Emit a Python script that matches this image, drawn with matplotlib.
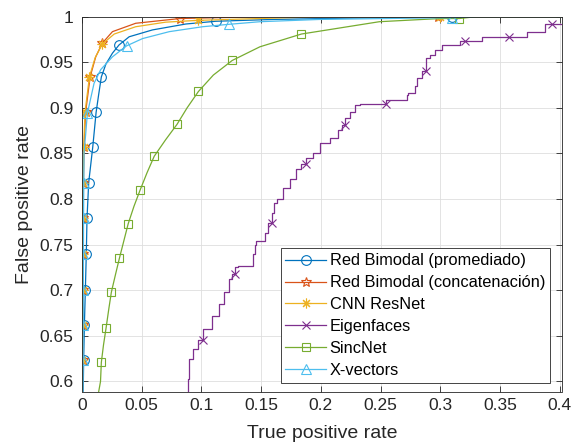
import matplotlib
matplotlib.use("Agg")
import matplotlib.pyplot as plt
from matplotlib.ticker import FuncFormatter

plt.rcParams['font.family'] = ['Liberation Sans', 'DejaVu Sans']

# ---------------- data ----------------
labels = ["Red Bimodal (promediado)", "Red Bimodal (concatenación)", "CNN ResNet",
          "Eigenfaces", "SincNet", "X-vectors"]

prom_x = [0.0010, 0.0014, 0.0020, 0.0028, 0.0036, 0.0042, 0.0056, 0.0090, 0.0118, 0.0140,
          0.0162, 0.0200, 0.0255, 0.0310, 0.0395, 0.0590, 0.0870, 0.1120, 0.1600, 0.2500,
          0.3100, 0.4020]
prom_y = [0.589, 0.624, 0.662, 0.700, 0.740, 0.779, 0.818, 0.857, 0.895, 0.915,
          0.934, 0.948, 0.960, 0.969, 0.978, 0.9855, 0.992, 0.995, 0.997, 0.999,
          1.000, 1.000]
prom_m = [1, 2, 3, 4, 5, 6, 7, 8, 10, 13, 17, 20]

conc_x = [0.0005, 0.0006, 0.0007, 0.0008, 0.0009, 0.0010, 0.0012, 0.0017, 0.0030, 0.0068,
          0.0115, 0.0170, 0.0255, 0.0450, 0.0820, 0.1500, 0.2980, 0.4020]
conc_y = [0.589, 0.624, 0.662, 0.700, 0.740, 0.779, 0.818, 0.857, 0.895, 0.934,
          0.956, 0.971, 0.9836, 0.9928, 0.998, 1.000, 1.000, 1.000]
conc_m = [1, 2, 3, 4, 5, 6, 7, 8, 9, 11, 14, 16]

cnn_x = [0.0003, 0.0004, 0.0005, 0.0006, 0.0007, 0.0008, 0.0010, 0.0014, 0.0025, 0.0062,
         0.0110, 0.0170, 0.0270, 0.0450, 0.0700, 0.0970, 0.2000, 0.3000, 0.4020]
cnn_y = [0.589, 0.624, 0.662, 0.700, 0.740, 0.779, 0.818, 0.857, 0.895, 0.934,
         0.955, 0.970, 0.981, 0.989, 0.994, 0.996, 1.000, 1.000, 1.000]
cnn_m = [1, 2, 3, 4, 5, 6, 7, 8, 9, 11, 15, 17]

eig_x = [0.0885, 0.0900, 0.0927, 0.0970, 0.1010, 0.1025, 0.1090, 0.1090, 0.1150, 0.1190,
         0.1235, 0.1260, 0.1280, 0.1307, 0.1430, 0.1445, 0.1460, 0.1530, 0.1560, 0.1590,
         0.1610, 0.1630, 0.1680, 0.1740, 0.1795, 0.1837, 0.1880, 0.1936, 0.1990, 0.2076,
         0.2145, 0.2175, 0.2200, 0.2244, 0.2286, 0.2328, 0.2550, 0.2566, 0.2720, 0.2734,
         0.2790, 0.2804, 0.2846, 0.2880, 0.2916, 0.2958, 0.3014, 0.3056, 0.3168, 0.3210,
         0.3350, 0.3355, 0.3580, 0.3728, 0.3745, 0.3880, 0.3890, 0.3940, 0.4020]
eig_y = [0.589, 0.603, 0.625, 0.636, 0.6455, 0.658, 0.658, 0.672, 0.672, 0.685,
         0.698, 0.712, 0.718, 0.725, 0.727, 0.740, 0.750, 0.754, 0.763, 0.774,
         0.785, 0.796, 0.800, 0.8125, 0.8215, 0.8325, 0.839, 0.845, 0.851, 0.862,
         0.867, 0.876, 0.881, 0.889, 0.896, 0.9035, 0.904, 0.909, 0.909, 0.9144,
         0.916, 0.9235, 0.9327, 0.940, 0.9545, 0.958, 0.9636, 0.969, 0.969, 0.9734,
         0.9734, 0.978, 0.978, 0.978, 0.983, 0.983, 0.992, 0.992, 0.992]
eig_m = [4, 12, 19, 26, 32, 36, 43, 49, 52, 57]

sinc_x = [0.0140, 0.0155, 0.0162, 0.0180, 0.0202, 0.0225, 0.0246, 0.0280, 0.0313, 0.0350,
          0.0387, 0.0435, 0.0487, 0.0545, 0.0605, 0.0700, 0.0796, 0.0880, 0.0975, 0.1100,
          0.1258, 0.1490, 0.1838, 0.2490, 0.3000, 0.3160, 0.3300, 0.4020]
sinc_y = [0.589, 0.600, 0.621, 0.640, 0.659, 0.680, 0.698, 0.717, 0.735, 0.754,
          0.773, 0.792, 0.810, 0.829, 0.847, 0.865, 0.882, 0.900, 0.918, 0.936,
          0.952, 0.967, 0.981, 0.9945, 0.998, 0.998, 1.000, 1.000]
sinc_m = [2, 4, 6, 8, 10, 12, 14, 16, 18, 20, 22, 25]

xv_x = [0.0008, 0.0009, 0.0010, 0.0011, 0.0012, 0.0013, 0.0015, 0.0017, 0.0030, 0.0045,
        0.0101, 0.0157, 0.0255, 0.0373, 0.0507, 0.0731, 0.1010, 0.1235, 0.1490, 0.1990,
        0.3100, 0.3300, 0.4020]
xv_y = [0.589, 0.624, 0.662, 0.700, 0.740, 0.779, 0.818, 0.851, 0.870, 0.894,
        0.927, 0.942, 0.956, 0.968, 0.976, 0.9836, 0.989, 0.9917, 0.9945, 0.997,
        0.999, 1.000, 1.000]
xv_m = [1, 2, 3, 4, 5, 6, 9, 13, 17, 20]

x_ticks = [0, 0.05, 0.1, 0.15, 0.2, 0.25, 0.3, 0.35, 0.4]
y_ticks = [0.6, 0.65, 0.7, 0.75, 0.8, 0.85, 0.9, 0.95, 1.0]

# ---------------- style ----------------
colors = ['#0072BD', '#D95319', '#EDB120', '#7E2F8E', '#77AC30', '#4DBEEE']
markers = ['o', '*', (8, 2, 0), 'x', 's', '^']
msizes = [7, 7, 7, 6, 6, 7]

fig = plt.figure(figsize=(5.76, 4.47), dpi=100)
ax = fig.add_axes([82 / 576, 1 - 391.5 / 447, 480 / 576, (391.5 - 16.7) / 447])

series = [(prom_x, prom_y, prom_m), (conc_x, conc_y, conc_m), (cnn_x, cnn_y, cnn_m),
          (eig_x, eig_y, eig_m), (sinc_x, sinc_y, sinc_m), (xv_x, xv_y, xv_m)]

for i, (xs, ys, mk) in enumerate(series):
    kw = {}
    if i == 3:
        kw['drawstyle'] = 'steps-pre'
    ax.plot(xs, ys, color=colors[i], lw=0.9, marker=markers[i], markevery=mk,
            ms=msizes[i], mfc='none', mec=colors[i], mew=0.8, label=labels[i],
            clip_on=True, **kw)

ax.set_xlim(0, 0.402)
ax.set_ylim(0.589, 1.0)
ax.set_xticks(x_ticks)
ax.set_yticks(y_ticks)
fmt = FuncFormatter(lambda v, p: f"{v:g}")
ax.xaxis.set_major_formatter(fmt)
ax.yaxis.set_major_formatter(fmt)

ax.grid(True, color='#DEDEDE', lw=0.6)
ax.set_axisbelow(True)
for s in ax.spines.values():
    s.set_color('#262626')
    s.set_linewidth(0.6)
ax.tick_params(axis='both', which='both', direction='in', length=4, width=0.6,
               color='#262626', labelcolor='#262626', labelsize=12.5,
               top=True, right=True)
ax.tick_params(axis='x', pad=5)
ax.tick_params(axis='y', pad=6)

ax.set_xlabel("True positive rate", fontsize=14, color='#262626', labelpad=8)
ax.set_ylabel("False positive rate", fontsize=14, color='#262626', labelpad=5)

leg = ax.legend(loc='lower right', bbox_to_anchor=(0.975, 0.0235), borderaxespad=0,
                fontsize=11.8, frameon=True, fancybox=False, framealpha=1,
                edgecolor='#262626', handlelength=2.5, handletextpad=0.2,
                labelspacing=0.42, borderpad=0.3)
leg.get_frame().set_linewidth(0.6)

fig.savefig("out.png", dpi=100)
